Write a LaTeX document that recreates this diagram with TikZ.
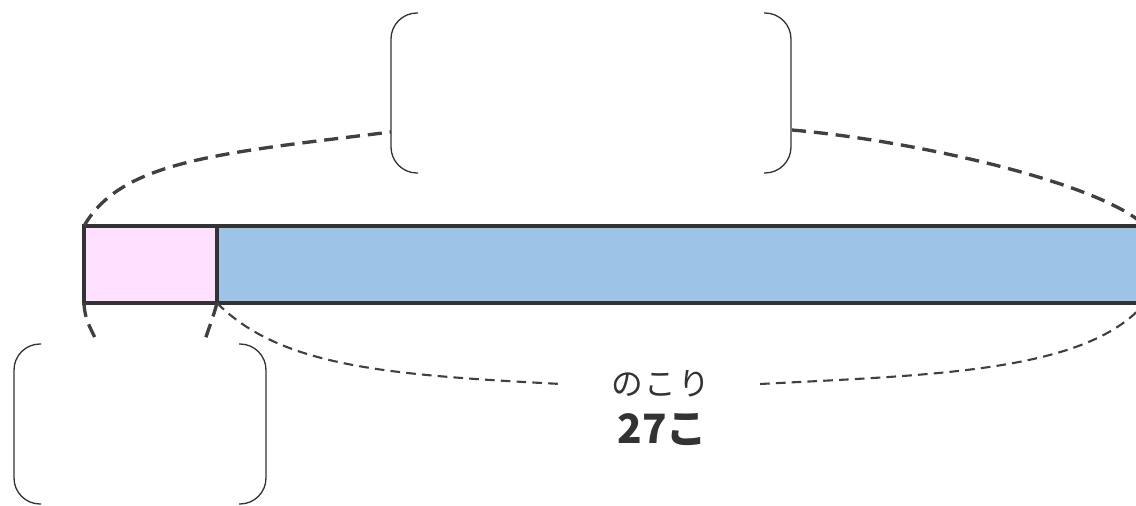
\documentclass[tikz,border=0pt]{standalone}
\usepackage{fontspec}
\newfontfamily\jpfont{Noto Sans CJK JP}
\definecolor{barpink}{HTML}{FFE0FE}
\definecolor{barblue}{HTML}{9DC3E6}
\definecolor{linegray}{HTML}{333333}
\definecolor{dashgray}{HTML}{404040}
\begin{document}
\begin{tikzpicture}[
    part/.style={
        rectangle,
        draw=linegray,
        line width=2pt,
        minimum height=1.54cm,
        inner sep=0pt,
        outer sep=0pt
    },
    bracketbox/.style={
        rectangle,
        inner sep=0pt,
        outer sep=0pt
    },
    paren/.style={
        draw=linegray,
        line width=0.75pt,
        rounded corners=0.52cm
    },
    thickdash/.style={
        draw=dashgray,
        line width=1.9pt,
        dash pattern=on 8pt off 4.5pt
    },
    thindash/.style={
        draw=dashgray,
        line width=1.2pt,
        dash pattern=on 5.5pt off 3.5pt
    },
    label/.style={
        text=linegray,
        inner xsep=1cm
    }
]
\useasboundingbox (0,0) rectangle (22.72,10.1);

% Barra
\node[part, fill=barpink, minimum width=2.66cm] (given) at (3.01,4.81) {};
\node[part, fill=barblue, minimum width=18.56cm, anchor=west] (rest) at (given.east) {};

% Riquadri vuoti
\node[bracketbox, minimum width=8cm, minimum height=3.2cm] (topbox) at (11.82,8.24) {};
\node[bracketbox, minimum width=5.04cm, minimum height=3.2cm] (bottombox) at (2.80,1.62) {};

\draw[paren] ([xshift=0.54cm]topbox.north west) -- (topbox.north west) -- (topbox.south west) -- ([xshift=0.54cm]topbox.south west);
\draw[paren] ([xshift=-0.54cm]topbox.north east) -- (topbox.north east) -- (topbox.south east) -- ([xshift=-0.54cm]topbox.south east);
\draw[paren] ([xshift=0.54cm]bottombox.north west) -- (bottombox.north west) -- (bottombox.south west) -- ([xshift=0.54cm]bottombox.south west);
\draw[paren] ([xshift=-0.54cm]bottombox.north east) -- (bottombox.north east) -- (bottombox.south east) -- ([xshift=-0.54cm]bottombox.south east);

% Testo
\node[label, font=\jpfont\fontsize{18pt}{20pt}\selectfont] (resttext) at (13.21,2.42) {の\hspace{1pt}こ\hspace{1pt}り};
\node[label, inner xsep=2pt, font=\jpfont\bfseries\fontsize{23pt}{26pt}\selectfont] (restnum) at (13.25,1.50) {27こ};

% Estremi liberi
\coordinate (topleft) at (7.82,7.46);
\coordinate (topright) at (15.84,7.50);
\coordinate (leftend) at (1.94,3.26);
\coordinate (rightend) at (4.10,3.30);

% Archi tratteggiati
\draw[thickdash] (given.north west) to[out=60, in=187, out distance=1.5cm, in distance=3.5cm] (topleft);
\draw[thickdash] (topright) to[out=-5, in=135, out distance=2.5cm, in distance=1.2cm] (rest.north east);
\draw[thickdash] (given.south west) to[out=-88, in=115] (leftend);
\draw[thickdash] (given.south east) to[out=-105, in=72] (rightend);
\draw[thindash] (given.south east) to[out=-45, in=177, out distance=1.8cm, in distance=3.5cm] (resttext.west);
\draw[thindash] (resttext.east) to[out=3, in=-130, out distance=3.5cm, in distance=1.8cm] (rest.south east);

\end{tikzpicture}
\end{document}
